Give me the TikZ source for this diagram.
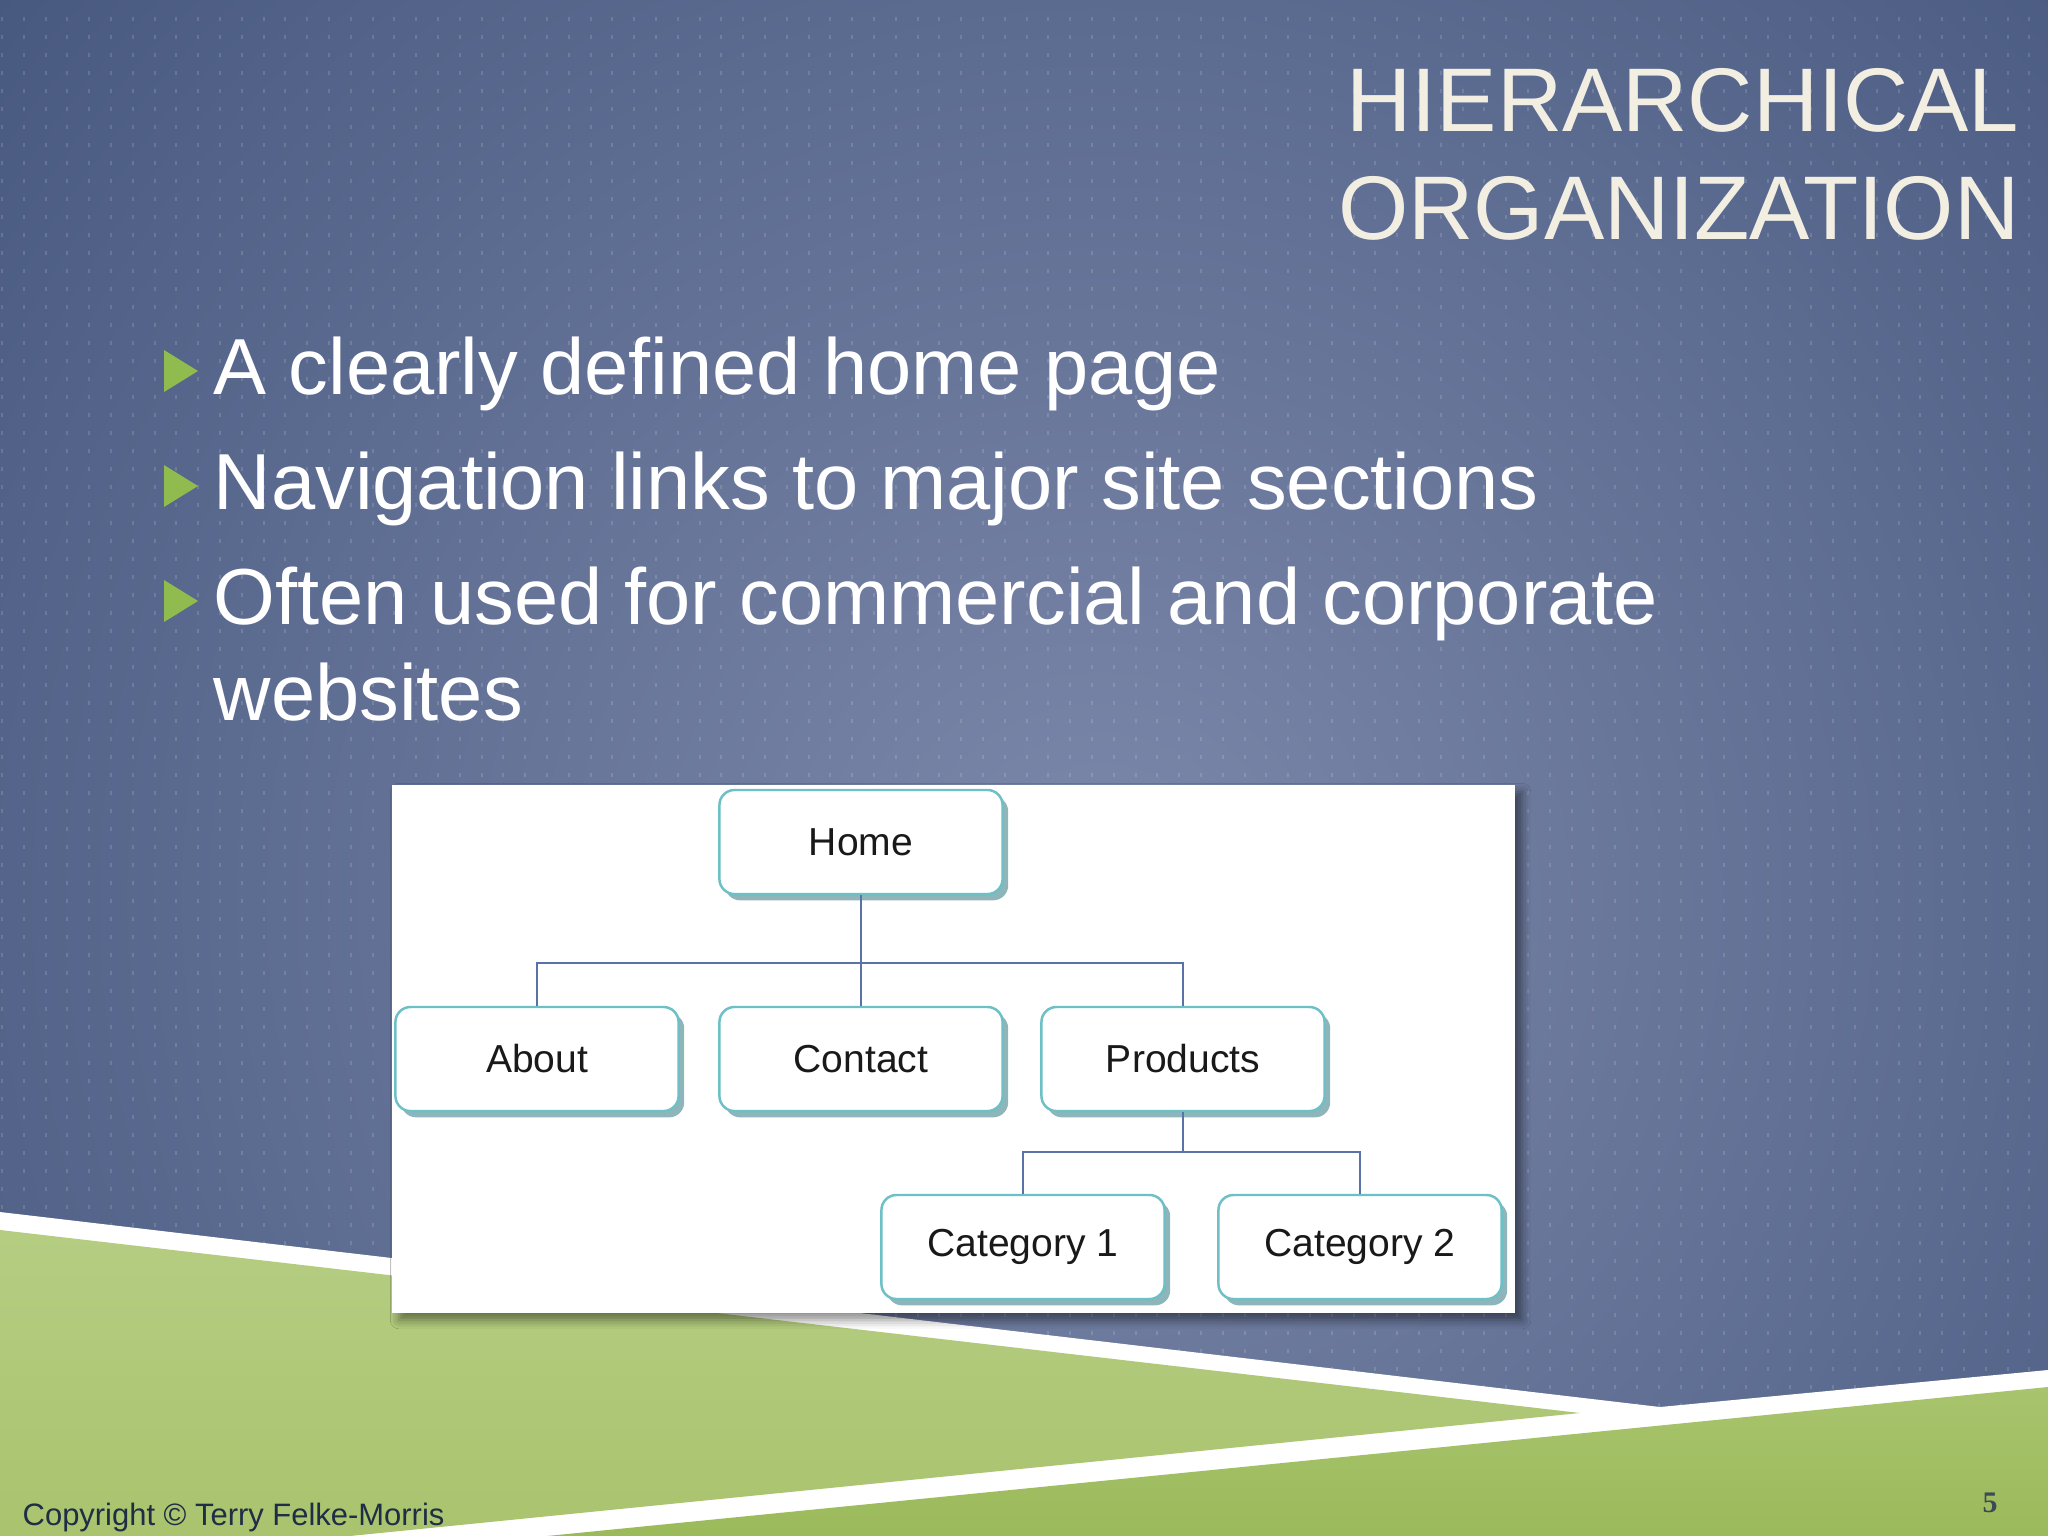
\documentclass[tikz,border=0pt]{standalone}
\usepackage{fontspec}
\setmainfont{Liberation Sans}
\newfontfamily\serifnum{Liberation Serif}
\usetikzlibrary{shadows,shadows.blur}
\definecolor{slatedark}{HTML}{33466F}
\definecolor{slatelight}{HTML}{7C88AA}
\definecolor{bulletgreen}{HTML}{8FBB4F}
\definecolor{titlecream}{HTML}{F2EFE2}
\definecolor{boxteal}{HTML}{6CC0C6}
\definecolor{boxshade}{HTML}{5E979D}
\definecolor{linkblue}{HTML}{5A73A6}
\definecolor{copyink}{HTML}{1F2D45}
\definecolor{numink}{HTML}{3C4A58}
\definecolor{wedgetop}{HTML}{B5CD82}
\definecolor{wedgelight}{HTML}{D3E2B3}
\definecolor{wedgelow}{HTML}{A9C36E}
\definecolor{lowtop}{HTML}{A8C46E}
\definecolor{lowlight}{HTML}{CFDFAA}
\definecolor{lowbase}{HTML}{9BBA5A}
\tikzset{
  treebox/.style={draw=boxteal, line width=0.7pt, fill=white, rounded corners=4.3pt,
    minimum width=2.83cm, minimum height=1.04cm, text=black!90,
    font=\fontsize{11.1pt}{13pt}\selectfont,
    drop shadow={shadow xshift=1.6pt, shadow yshift=-1.8pt, fill=boxshade, opacity=0.7}},
  link/.style={draw=linkblue, line width=0.6pt},
  dotline/.style={draw=white, opacity=0.14, line width=0.6pt, dash pattern=on 1.14pt off 3.98pt},
  titletext/.style={anchor=base east, inner sep=0pt, text=titlecream, font=\fontsize{25.7pt}{30pt}\selectfont},
  itemtext/.style={anchor=base west, inner sep=0pt, text=white, font=\fontsize{22.6pt}{27pt}\selectfont},
}

\begin{document}
\begin{tikzpicture}[x=0.01cm,y=-0.01cm]
  \useasboundingbox (0,0) rectangle (2048,1536);
  % background
  \begin{scope}
    \clip (0,0) rectangle (2048,1536);
    \shade[inner color=slatelight, outer color=slatedark] (1100,900) circle (20cm);
    \foreach \i in {0,...,93}
      \draw[dotline] (2+21.8*\i,17) -- (2+21.8*\i,1536);
  \end{scope}
  % bands at the foot
  \fill[white] (0,1212) -- (1660,1407) -- (2048,1370) -- (2048,1536) -- (0,1536) -- cycle;
  \shade[top color=wedgetop, middle color=wedgelight, bottom color=wedgelow]
    (0,1230) -- (1580,1413) -- (350,1536) -- (0,1536) -- cycle;
  \shade[top color=lowtop, middle color=lowlight, bottom color=lowbase]
    (547,1536) -- (2048,1387) -- (2048,1536) -- cycle;
  % panel
  \fill[white, blur shadow={shadow xshift=2pt, shadow yshift=-2pt, shadow blur radius=2.5pt, shadow opacity=45}]
    (392,785) rectangle (1515,1313);
  \path
    (861,842) node[treebox] (home) {Home}
    (537,1059) node[treebox] (about) {About}
    (861,1059) node[treebox] (contact) {Contact}
    (1183,1059) node[treebox] (products) {Products}
    (1023,1247) node[treebox] (cat1) {Category 1}
    (1360,1247) node[treebox] (cat2) {Category 2};
  \coordinate (bus1) at (861,963);
  \coordinate (bus2) at (1183,1152);
  \begin{scope}[link]
    \draw (home) -- (contact);
    \draw (about) |- (bus1) -| (products);
    \draw (products) -- (bus2);
    \draw (cat1) |- (bus2) -| (cat2);
  \end{scope}
  % texts
  \node[titletext] (title1) at (2020,131) {HIERARCHICAL};
  \node[titletext] (title2) at (2020,239) {ORGANIZATION};
  \foreach \yb in {394,509,624}
    \fill[bulletgreen] (164,\yb-44) -- (164,\yb-2) -- (198,\yb-23) -- cycle;
  \node[itemtext] (item1) at (213,394) {A clearly defined home page};
  \node[itemtext] (item2) at (213,509) {Navigation links to major site sections};
  \node[itemtext] (item3) at (213,624) {Often used for commercial and corporate};
  \node[itemtext] (item3b) at (213,720) {websites};
  \node[anchor=base west, inner sep=0pt, text=copyink, font=\fontsize{8.8pt}{10pt}\selectfont]
    (copy) at (22,1525) {Copyright © Terry Felke-Morris};
  \node[anchor=base, inner sep=0pt, text=numink, font=\serifnum\bfseries\fontsize{8.5pt}{10pt}\selectfont]
    (pnum) at (1990,1512) {5};
\end{tikzpicture}
\end{document}
